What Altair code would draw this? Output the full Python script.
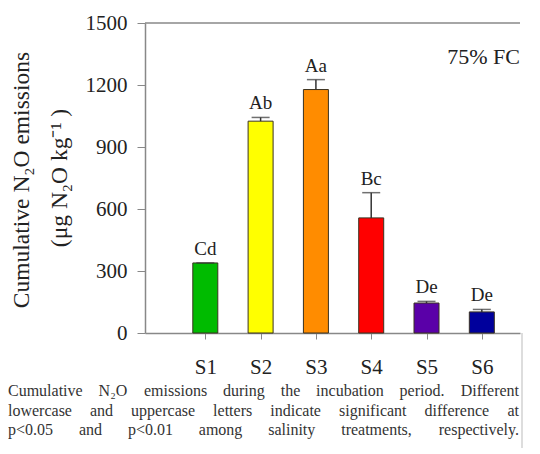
import altair as alt
import pandas as pd

categories = ["S1", "S2", "S3", "S4", "S5", "S6"]
positions = [1, 2, 3, 4, 5, 6]
values = [339, 1025, 1178, 557, 145, 102]
errors = [0, 18, 48, 122, 8, 12]
letters = ["Cd", "Ab", "Aa", "Bc", "De", "De"]
colors = ["#00bb00", "#ffff00", "#ff8c00", "#ff0000", "#5a00a8", "#00009c"]

y_ticks = [0, 300, 600, 900, 1200, 1500]
title_lines = ["Cumulative N\u2082O emissions", "(\u03bcg N\u2082O kg\u207b\u00b9 )"]
panel_label = "75% FC"
caption_lines = [
    "Cumulative N\u2082O emissions during the incubation period. Different",
    "lowercase and uppercase letters indicate significant difference at",
    "p<0.05 and p<0.01 among salinity treatments, respectively.",
]

W, H = 375, 310
SERIF = "Liberation Serif"
CAP_FS = 16

# approximate Times metrics (em) used only to spread caption words (justified text)
_w = {" ": .25, "a": .444, "b": .5, "c": .444, "d": .5, "e": .444, "f": .333, "g": .5,
      "h": .5, "i": .278, "j": .278, "k": .5, "l": .278, "m": .778, "n": .5, "o": .5,
      "p": .5, "q": .5, "r": .333, "s": .389, "t": .278, "u": .5, "v": .5, "w": .722,
      "x": .5, "y": .5, "z": .444, "C": .667, "D": .722, "N": .722, "O": .722,
      ".": .25, ",": .25, "<": .564, "\u2082": .4}


def text_w(s):
    return sum(_w.get(ch, .5) for ch in s) * CAP_FS


df = pd.DataFrame({
    "cat": categories,
    "pos": positions,
    "value": values,
    "err": errors,
    "top": [v + e for v, e in zip(values, errors)],
    "letter": letters,
})

label_expr = "[" + ",".join("'" + c + "'" for c in categories) + "][datum.value - 1]"

x = alt.X("pos:Q", scale=alt.Scale(domain=[0, 6.6], nice=False, zero=False),
          axis=alt.Axis(values=positions, labelExpr=label_expr, title=None, grid=False,
                        tickSize=6, tickColor="#888", domainColor="#888", domainWidth=1.5,
                        labelFont=SERIF, labelFontSize=21, labelColor="#222",
                        labelPadding=17))
y = alt.Y("value:Q", scale=alt.Scale(domain=[0, 1500], nice=False),
          axis=alt.Axis(values=y_ticks, format="d", title=None, grid=False, tickSize=8,
                        tickColor="#888", domainColor="#888", domainWidth=1.5,
                        labelFont=SERIF, labelFontSize=21, labelColor="#222",
                        labelPadding=10))

base = alt.Chart(df)

bars = base.mark_bar(size=25, stroke="#3a3220", strokeWidth=1).encode(
    x=x, y=y,
    color=alt.Color("cat:N", scale=alt.Scale(domain=categories, range=colors), legend=None),
)

err_rule = base.mark_rule(color="#333", strokeWidth=1.5).encode(
    x="pos:Q", y="value:Q", y2="top:Q"
)
err_cap = base.mark_tick(orient="horizontal", size=18, thickness=1.5, color="#333").encode(
    x="pos:Q", y="top:Q"
)
labels = base.mark_text(font=SERIF, fontSize=19, color="#222", baseline="alphabetic",
                        dy=-8).encode(x="pos:Q", y="top:Q", text="letter:N")

top_frame = alt.Chart(pd.DataFrame({"v": [1500]})).mark_rule(
    color="#888", strokeWidth=1.5).encode(y="v:Q", x=alt.value(0), x2=alt.value(W))

edge_line = alt.Chart(pd.DataFrame({"a": [0]})).mark_rule(color="#bbb", strokeWidth=1).encode(
    x=alt.value(377), y=alt.value(H), y2=alt.value(440))

panel = alt.Chart(pd.DataFrame({"t": [panel_label]})).mark_text(
    font=SERIF, fontSize=22, color="#222", align="right", baseline="middle").encode(
    x=alt.value(375), y=alt.value(34), text="t:N")

title1 = alt.Chart(pd.DataFrame({"t": [title_lines[0]]})).mark_text(
    font=SERIF, fontSize=23.5, color="#222", angle=270, align="center", baseline="middle").encode(
    x=alt.value(-123), y=alt.value(157), text="t:N")
title2 = alt.Chart(pd.DataFrame({"t": [title_lines[1]]})).mark_text(
    font=SERIF, fontSize=23.5, color="#222", angle=270, align="center", baseline="middle").encode(
    x=alt.value(-85), y=alt.value(155), text="t:N")

# caption: justified across the width, word by word
line_y = [368, 388, 407]
left_x, right_x = -137, 374
cap_layers = []
for li, line in enumerate(caption_lines):
    words = line.split(" ")
    widths = [text_w(wd) for wd in words]
    gap = (right_x - left_x - sum(widths)) / (len(words) - 1)
    cur = left_x
    for wi, wd in enumerate(words):
        last = wi == len(words) - 1
        cap_layers.append(
            alt.Chart(pd.DataFrame({"t": [wd]})).mark_text(
                font=SERIF, fontSize=CAP_FS, color="#333",
                align="right" if last else "left", baseline="middle").encode(
                x=alt.value(right_x if last else round(cur, 1)),
                y=alt.value(line_y[li]), text="t:N")
        )
        cur += widths[wi] + gap

chart = alt.layer(bars, err_rule, err_cap, labels, top_frame, edge_line, panel,
                  title1, title2, *cap_layers).properties(
    width=W, height=H,
    autosize=alt.AutoSizeParams(type="none"),
    padding={"left": 137, "top": 15, "right": 12, "bottom": 115},
).configure_view(strokeWidth=0)

chart.save("out.html", embed_options={"renderer": "svg", "actions": False})
